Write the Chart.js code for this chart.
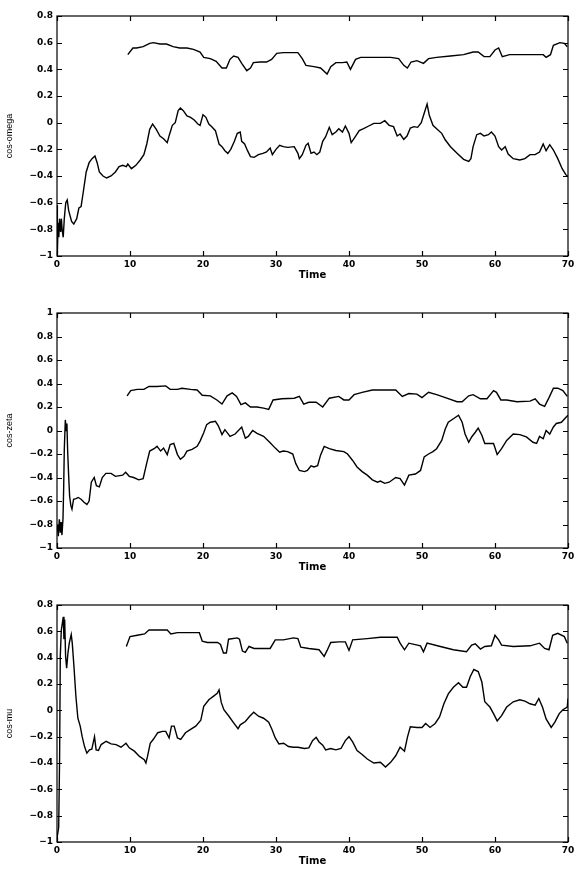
<!DOCTYPE html>
<html>
<head>
<meta charset="utf-8">
<script src="https://cdn.jsdelivr.net/npm/chart.js@4/dist/chart.umd.min.js"></script>
<style>
  body { margin: 0; background: #fff; }
  #page { position: relative; width: 581px; height: 874px; }
  canvas { position: absolute; left: 0; }
</style>
</head>
<body>
<div id="page">
  <canvas id="c1" width="581" height="278" style="top:6px"></canvas>
  <canvas id="c2" width="581" height="273" style="top:303px"></canvas>
  <canvas id="c3" width="581" height="275" style="top:595px"></canvas>
</div>
<script>
// x axis ticks (Time)
const timeTicks = [0, 10, 20, 30, 40, 50, 60, 70];
const axisLabels = ['cos-omega', 'cos-zeta', 'cos-mu'];

// top panel: cos-omega, [time, value]
const omegaUpper = [[9.7,0.51],[10.4,0.56],[10.9,0.56],[11.8,0.57],[12.7,0.595],[13.2,0.60],[14.1,0.59],[15.0,0.59],[15.9,0.57],[16.8,0.56],[17.8,0.56],[18.7,0.55],[19.6,0.53],[20.1,0.49],[21.0,0.48],[21.8,0.46],[22.6,0.41],[23.2,0.41],[23.7,0.475],[24.2,0.50],[24.8,0.49],[25.3,0.445],[26.0,0.39],[26.5,0.41],[26.9,0.45],[27.8,0.455],[28.7,0.455],[29.4,0.475],[30.1,0.52],[31.0,0.525],[32.4,0.525],[33.0,0.525],[33.6,0.48],[34.1,0.43],[35.2,0.42],[36.1,0.41],[37.0,0.365],[37.5,0.42],[38.2,0.45],[39.1,0.45],[39.7,0.455],[40.2,0.40],[40.9,0.475],[41.6,0.49],[43.4,0.49],[45.7,0.49],[46.8,0.48],[47.5,0.43],[48.0,0.41],[48.5,0.455],[49.3,0.465],[50.2,0.445],[50.9,0.48],[52.0,0.49],[53.9,0.50],[55.7,0.51],[57.0,0.53],[57.7,0.53],[58.5,0.495],[59.3,0.495],[60.0,0.545],[60.5,0.56],[61.0,0.495],[62.0,0.51],[63.9,0.51],[66.6,0.51],[67.0,0.49],[67.6,0.51],[68.0,0.58],[68.9,0.60],[69.5,0.595],[69.9,0.57]];
const omegaLower = [[0,-0.62],[0.05,-0.98],[0.15,-0.75],[0.25,-0.86],[0.35,-0.72],[0.5,-0.82],[0.6,-0.72],[0.7,-0.8],[0.85,-0.86],[1.0,-0.72],[1.2,-0.6],[1.4,-0.58],[1.6,-0.66],[2.0,-0.74],[2.3,-0.76],[2.7,-0.72],[3.0,-0.64],[3.3,-0.63],[3.6,-0.52],[4.0,-0.37],[4.4,-0.3],[4.8,-0.27],[5.2,-0.25],[5.5,-0.3],[5.8,-0.37],[6.3,-0.4],[6.8,-0.415],[7.4,-0.4],[8.0,-0.37],[8.5,-0.33],[9.0,-0.32],[9.5,-0.33],[9.7,-0.31],[10.2,-0.345],[10.8,-0.32],[11.4,-0.28],[11.9,-0.24],[12.3,-0.16],[12.7,-0.05],[13.1,-0.01],[13.6,-0.05],[14.1,-0.1],[14.6,-0.12],[15.1,-0.15],[15.4,-0.09],[15.8,-0.02],[16.2,0.0],[16.6,0.09],[16.9,0.11],[17.3,0.09],[17.8,0.05],[18.3,0.04],[18.8,0.02],[19.3,-0.01],[19.6,-0.02],[20.0,0.06],[20.4,0.04],[20.8,-0.01],[21.2,-0.03],[21.7,-0.06],[22.2,-0.16],[22.6,-0.18],[23.0,-0.21],[23.4,-0.23],[23.8,-0.2],[24.3,-0.14],[24.7,-0.08],[25.1,-0.07],[25.3,-0.14],[25.7,-0.16],[26.1,-0.21],[26.5,-0.255],[27.0,-0.26],[27.6,-0.24],[28.2,-0.23],[28.7,-0.22],[29.2,-0.19],[29.5,-0.24],[30.0,-0.2],[30.5,-0.17],[31.0,-0.18],[31.6,-0.185],[32.5,-0.18],[33.0,-0.23],[33.2,-0.27],[33.6,-0.24],[34.1,-0.17],[34.4,-0.155],[34.8,-0.23],[35.2,-0.22],[35.6,-0.24],[36.0,-0.22],[36.4,-0.14],[36.8,-0.105],[37.3,-0.035],[37.7,-0.09],[38.2,-0.07],[38.6,-0.045],[39.1,-0.07],[39.5,-0.025],[40.0,-0.08],[40.3,-0.15],[40.8,-0.11],[41.4,-0.06],[42.0,-0.045],[42.7,-0.025],[43.4,-0.005],[44.3,-0.005],[44.9,0.015],[45.5,-0.02],[46.1,-0.03],[46.6,-0.1],[47.0,-0.085],[47.5,-0.125],[47.95,-0.1],[48.4,-0.04],[48.9,-0.03],[49.4,-0.035],[49.9,0.0],[50.3,0.07],[50.7,0.14],[51.0,0.055],[51.5,-0.02],[52.0,-0.045],[52.7,-0.08],[53.2,-0.13],[53.9,-0.18],[54.8,-0.23],[55.7,-0.275],[56.4,-0.29],[56.7,-0.27],[57.0,-0.18],[57.5,-0.09],[58.0,-0.08],[58.5,-0.1],[59.1,-0.09],[59.5,-0.07],[60.0,-0.1],[60.5,-0.18],[60.9,-0.205],[61.4,-0.18],[61.8,-0.235],[62.5,-0.27],[63.4,-0.28],[64.1,-0.27],[64.8,-0.24],[65.5,-0.24],[66.1,-0.22],[66.6,-0.16],[67.0,-0.21],[67.5,-0.165],[68.0,-0.205],[68.6,-0.27],[69.2,-0.345],[69.7,-0.39],[70.0,-0.405]];

// middle panel: cos-zeta
const zetaUpper = [[9.6,0.295],[10.1,0.34],[11.0,0.35],[11.9,0.35],[12.6,0.375],[13.7,0.375],[14.9,0.38],[15.5,0.35],[16.5,0.35],[17.1,0.36],[18.3,0.35],[19.2,0.345],[19.9,0.3],[21.0,0.295],[21.9,0.26],[22.6,0.225],[23.3,0.295],[24.0,0.32],[24.6,0.29],[25.2,0.22],[25.8,0.235],[26.5,0.2],[27.4,0.2],[28.3,0.19],[29.0,0.18],[29.6,0.26],[30.8,0.27],[32.5,0.275],[33.2,0.29],[33.8,0.225],[34.5,0.24],[35.5,0.24],[36.4,0.2],[37.3,0.275],[38.6,0.29],[39.3,0.26],[40.0,0.26],[40.7,0.305],[41.8,0.325],[43.2,0.345],[44.8,0.345],[46.4,0.345],[47.3,0.29],[48.2,0.315],[49.3,0.31],[50.0,0.28],[50.9,0.325],[52.0,0.305],[53.4,0.275],[54.8,0.245],[55.5,0.245],[56.4,0.295],[57.0,0.305],[58.0,0.27],[58.9,0.27],[59.8,0.34],[60.2,0.325],[60.8,0.26],[61.6,0.26],[63.0,0.245],[64.8,0.25],[65.5,0.27],[66.1,0.225],[66.8,0.205],[67.4,0.28],[68.0,0.36],[68.6,0.36],[69.3,0.34],[69.9,0.29]];
const zetaLower = [[0,-0.8],[0.09,-0.84],[0.18,-0.9],[0.32,-0.755],[0.45,-0.87],[0.55,-0.78],[0.68,-0.89],[0.82,-0.75],[0.91,-0.5],[1.0,-0.16],[1.14,0.09],[1.27,0.0],[1.36,0.06],[1.45,-0.16],[1.6,-0.39],[1.73,-0.56],[1.9,-0.64],[2.05,-0.67],[2.27,-0.585],[2.6,-0.58],[2.9,-0.57],[3.3,-0.585],[3.7,-0.61],[4.1,-0.63],[4.4,-0.6],[4.7,-0.44],[5.1,-0.4],[5.4,-0.47],[5.8,-0.48],[6.2,-0.4],[6.7,-0.365],[7.4,-0.365],[8.0,-0.39],[9.0,-0.38],[9.4,-0.355],[9.9,-0.39],[10.5,-0.4],[11.2,-0.42],[11.8,-0.41],[12.3,-0.275],[12.7,-0.175],[13.3,-0.155],[13.7,-0.135],[14.2,-0.175],[14.6,-0.15],[15.1,-0.205],[15.5,-0.12],[16.0,-0.11],[16.5,-0.205],[16.9,-0.245],[17.4,-0.22],[17.8,-0.175],[18.5,-0.16],[19.2,-0.135],[19.6,-0.09],[20.1,-0.02],[20.5,0.05],[21.0,0.07],[21.7,0.078],[22.1,0.04],[22.6,-0.035],[23.0,0.007],[23.7,-0.05],[24.4,-0.03],[25.3,0.03],[25.8,-0.065],[26.2,-0.05],[26.8,0.0],[27.4,-0.025],[28.3,-0.05],[29.2,-0.105],[29.9,-0.15],[30.5,-0.185],[31.0,-0.175],[31.6,-0.18],[32.3,-0.2],[32.7,-0.28],[33.2,-0.34],[33.9,-0.35],[34.3,-0.34],[34.8,-0.3],[35.2,-0.31],[35.7,-0.3],[36.1,-0.21],[36.6,-0.135],[37.3,-0.155],[38.2,-0.17],[39.3,-0.18],[39.8,-0.2],[40.5,-0.255],[41.1,-0.31],[41.8,-0.35],[42.5,-0.38],[43.2,-0.42],[43.9,-0.44],[44.3,-0.43],[44.9,-0.45],[45.5,-0.44],[46.4,-0.4],[47.0,-0.41],[47.6,-0.465],[48.2,-0.38],[49.1,-0.37],[49.8,-0.34],[50.3,-0.225],[50.9,-0.2],[51.5,-0.18],[52.0,-0.155],[52.7,-0.085],[53.2,0.015],[53.6,0.07],[54.3,0.1],[55.0,0.13],[55.5,0.07],[55.9,-0.03],[56.4,-0.1],[56.8,-0.055],[57.3,-0.015],[57.7,0.02],[58.2,-0.04],[58.6,-0.11],[59.3,-0.11],[59.8,-0.11],[60.3,-0.205],[60.9,-0.155],[61.6,-0.085],[62.5,-0.03],[63.4,-0.035],[64.3,-0.055],[65.2,-0.1],[65.7,-0.11],[66.1,-0.05],[66.6,-0.07],[67.0,0.0],[67.5,-0.03],[68.0,0.03],[68.4,0.06],[69.1,0.07],[69.7,0.11],[70.0,0.13]];

// bottom panel: cos-mu
const muUpper = [[9.5,0.485],[10.0,0.56],[11.0,0.57],[12.0,0.58],[12.6,0.61],[13.8,0.61],[15.1,0.61],[15.6,0.58],[16.5,0.59],[17.9,0.59],[19.5,0.59],[19.9,0.525],[20.6,0.515],[22.0,0.515],[22.4,0.5],[22.8,0.435],[23.2,0.435],[23.5,0.54],[24.7,0.55],[25.0,0.54],[25.4,0.45],[25.8,0.44],[26.3,0.485],[27.0,0.47],[28.3,0.47],[29.2,0.47],[29.9,0.535],[31.0,0.535],[32.4,0.55],[33.0,0.545],[33.4,0.48],[34.5,0.47],[35.9,0.46],[36.6,0.41],[37.0,0.455],[37.5,0.515],[38.6,0.52],[39.5,0.52],[40.0,0.455],[40.5,0.535],[42.5,0.545],[44.3,0.555],[46.6,0.555],[47.0,0.51],[47.6,0.46],[48.2,0.51],[49.8,0.49],[50.2,0.445],[50.7,0.51],[52.5,0.485],[54.3,0.46],[56.1,0.445],[56.8,0.495],[57.3,0.505],[58.0,0.465],[58.6,0.485],[59.5,0.49],[60.0,0.57],[60.5,0.535],[60.9,0.495],[62.5,0.485],[64.8,0.49],[66.1,0.51],[66.8,0.47],[67.4,0.46],[67.9,0.57],[68.6,0.585],[69.5,0.56],[69.9,0.51]];
const muLower = [[0,-0.97],[0.23,-0.89],[0.36,-0.35],[0.45,0.41],[0.59,0.61],[0.73,0.66],[0.86,0.71],[0.95,0.54],[1.05,0.69],[1.18,0.41],[1.32,0.32],[1.5,0.435],[1.68,0.51],[1.95,0.575],[2.09,0.51],[2.32,0.335],[2.59,0.105],[2.86,-0.06],[3.18,-0.12],[3.45,-0.2],[3.77,-0.275],[4.09,-0.325],[4.45,-0.3],[4.77,-0.295],[5.14,-0.2],[5.36,-0.3],[5.68,-0.305],[6.05,-0.26],[6.73,-0.235],[7.41,-0.255],[8.09,-0.26],[8.77,-0.28],[9.45,-0.25],[9.9,-0.285],[10.6,-0.31],[11.3,-0.35],[11.95,-0.375],[12.18,-0.4],[12.4,-0.35],[12.77,-0.25],[13.2,-0.22],[13.8,-0.17],[14.45,-0.16],[14.9,-0.16],[15.36,-0.21],[15.68,-0.12],[16.05,-0.12],[16.5,-0.21],[16.95,-0.22],[17.6,-0.17],[18.3,-0.145],[19.0,-0.12],[19.7,-0.075],[20.1,0.03],[20.8,0.08],[21.5,0.11],[21.95,0.13],[22.2,0.155],[22.5,0.06],[22.86,0.005],[23.55,-0.045],[24.2,-0.095],[24.8,-0.14],[25.1,-0.11],[25.8,-0.085],[26.4,-0.045],[26.95,-0.015],[27.6,-0.045],[28.3,-0.06],[29.0,-0.09],[29.45,-0.145],[29.9,-0.21],[30.4,-0.255],[31.05,-0.25],[31.7,-0.275],[32.4,-0.28],[33.0,-0.28],[33.9,-0.29],[34.5,-0.285],[35.0,-0.23],[35.5,-0.205],[35.9,-0.24],[36.4,-0.265],[36.8,-0.3],[37.5,-0.29],[38.2,-0.3],[38.9,-0.29],[39.5,-0.23],[40.0,-0.2],[40.5,-0.24],[41.1,-0.305],[41.8,-0.335],[42.5,-0.37],[43.4,-0.4],[44.3,-0.395],[45.0,-0.43],[45.7,-0.395],[46.4,-0.345],[47.0,-0.28],[47.6,-0.31],[48.0,-0.205],[48.4,-0.125],[49.3,-0.13],[50.0,-0.13],[50.5,-0.1],[51.1,-0.13],[51.8,-0.1],[52.4,-0.05],[53.0,0.05],[53.6,0.125],[54.3,0.175],[55.0,0.21],[55.6,0.175],[56.1,0.175],[56.6,0.255],[57.1,0.31],[57.7,0.295],[58.2,0.215],[58.6,0.065],[59.3,0.025],[59.8,-0.025],[60.3,-0.08],[60.9,-0.04],[61.6,0.025],[62.5,0.065],[63.4,0.08],[64.1,0.07],[64.8,0.05],[65.5,0.04],[66.0,0.09],[66.5,0.025],[67.0,-0.065],[67.7,-0.13],[68.2,-0.09],[68.8,-0.025],[69.3,0.005],[69.9,0.025],[70.0,0.09]];

// box round the plot plus inward tick marks on every side
const frameTicks = {
  id: 'frameTicks',
  afterDraw(chart) {
    const { ctx, chartArea: a, scales: { x, y } } = chart;
    const len = 5;
    ctx.save();
    ctx.strokeStyle = '#000';
    ctx.lineWidth = 1.2;
    ctx.strokeRect(a.left, a.top, a.right - a.left, a.bottom - a.top);
    ctx.beginPath();
    x.ticks.forEach(t => {
      const px = Math.round(x.getPixelForValue(t.value)) + 0.5;
      ctx.moveTo(px, a.bottom); ctx.lineTo(px, a.bottom - len);
      ctx.moveTo(px, a.top); ctx.lineTo(px, a.top + len);
    });
    y.ticks.forEach(t => {
      const py = Math.round(y.getPixelForValue(t.value)) + 0.5;
      ctx.moveTo(a.left, py); ctx.lineTo(a.left + len, py);
      ctx.moveTo(a.right, py); ctx.lineTo(a.right - len, py);
    });
    ctx.stroke();
    ctx.restore();
  }
};

function fmt(v) {
  const r = Math.round(v * 10) / 10;
  return String(r).replace('-', '\u2212');
}

const toXY = arr => arr.map(p => ({ x: p[0], y: p[1] }));

function makePanel(id, upper, lower, yMin, yMax, label) {
  const tickFont = { family: 'DejaVu Sans', size: 9, weight: 'bold' };
  return new Chart(document.getElementById(id), {
    type: 'scatter',
    data: {
      datasets: [upper, lower].map(d => ({
        data: toXY(d),
        showLine: true,
        borderColor: '#000',
        borderWidth: 1.4,
        pointRadius: 0,
        tension: 0
      }))
    },
    options: {
      responsive: false,
      animation: false,
      events: [],
      layout: { padding: { left: 0, right: 13, top: 10, bottom: 0 } },
      plugins: { legend: { display: false }, tooltip: { enabled: false } },
      scales: {
        x: {
          type: 'linear',
          min: 0,
          max: 70,
          afterBuildTicks: s => { s.ticks = timeTicks.map(v => ({ value: v })); },
          afterFit: s => { s.height = 28; },
          grid: { display: false, drawTicks: false },
          border: { display: false },
          ticks: { color: '#000', font: tickFont, padding: 3, maxRotation: 0 },
          title: {
            display: true, text: 'Time', color: '#000',
            font: { family: 'DejaVu Sans', size: 10, weight: 'bold' },
            padding: { top: 0, bottom: 3 }
          }
        },
        y: {
          min: yMin,
          max: yMax,
          ticks: { stepSize: 0.2, color: '#000', font: tickFont, padding: 4, callback: fmt },
          afterFit: s => { s.width = 57; },
          grid: { display: false, drawTicks: false },
          border: { display: false },
          title: {
            display: true, text: label, color: '#000',
            font: { family: 'Liberation Sans', size: 9 },
            padding: { top: 4, bottom: 0 }
          }
        }
      }
    },
    plugins: [frameTicks]
  });
}

makePanel('c1', omegaUpper, omegaLower, -1, 0.8, axisLabels[0]);
makePanel('c2', zetaUpper, zetaLower, -1, 1, axisLabels[1]);
makePanel('c3', muUpper, muLower, -1, 0.8, axisLabels[2]);
</script>
</body>
</html>
